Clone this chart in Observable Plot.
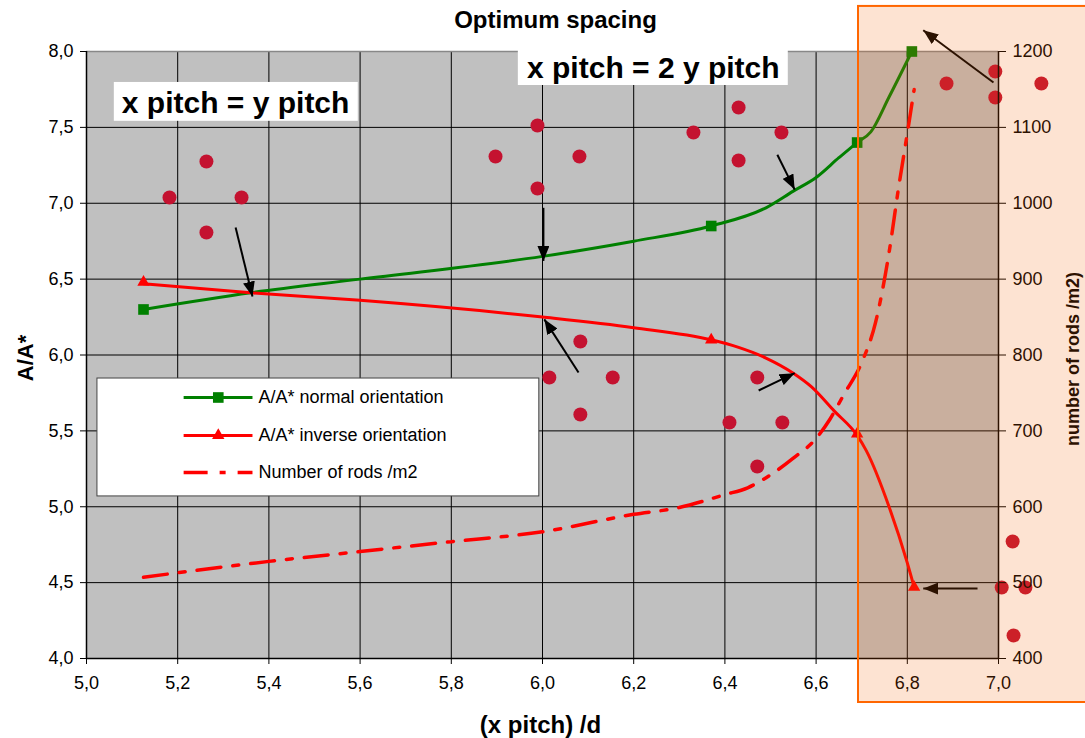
<!DOCTYPE html>
<html>
<head>
<meta charset="utf-8">
<script src="https://cdn.jsdelivr.net/npm/d3@7"></script>
<script src="https://cdn.jsdelivr.net/npm/@observablehq/plot@0.6"></script>
<style>
  html, body { margin: 0; padding: 0; background: #fff; overflow: hidden; }
  #chart { width: 1085px; height: 738px; }
  #chart svg { display: block; }
</style>
</head>
<body>
<div id="chart"></div>
<script>
// ---------------- data ----------------
const xTicks = [5.0, 5.2, 5.4, 5.6, 5.8, 6.0, 6.2, 6.4, 6.6, 6.8, 7.0];
const yTicks = [4.0, 4.5, 5.0, 5.5, 6.0, 6.5, 7.0, 7.5, 8.0];
const rodTicks = [400, 500, 600, 700, 800, 900, 1000, 1100, 1200];

const seriesNames = ["A/A* normal orientation", "A/A* inverse orientation", "Number of rods /m2"];

// A/A* normal orientation (smoothed line + markers)
const normalX = [5.125, 5.36, 5.6, 6.0, 6.2, 6.37, 6.49, 6.55, 6.6, 6.65, 6.69, 6.72, 6.76, 6.81];
const normalY = [6.30, 6.41, 6.50, 6.65, 6.75, 6.85, 6.97, 7.08, 7.17, 7.30, 7.40, 7.47, 7.70, 8.00];
const normalMarkX = [5.125, 6.37, 6.69, 6.81];
const normalMarkY = [6.30, 6.85, 7.40, 8.00];

// A/A* inverse orientation
const inverseX = [5.125, 5.36, 5.6, 6.0, 6.2, 6.37, 6.43, 6.49, 6.55, 6.59, 6.64, 6.69, 6.71, 6.76, 6.80, 6.815];
const inverseY = [6.47, 6.41, 6.36, 6.25, 6.18, 6.10, 6.05, 5.98, 5.88, 5.79, 5.63, 5.47, 5.37, 5.00, 4.63, 4.47];
const inverseMarkX = [5.125, 6.37, 6.69, 6.815];
const inverseMarkY = [6.48, 6.10, 5.48, 4.47];

// Number of rods /m2 (right axis)
const rodsX = [5.125, 5.2, 5.4, 5.6, 5.8, 6.0, 6.2, 6.3, 6.4, 6.45, 6.5, 6.55, 6.6, 6.63, 6.66, 6.70, 6.73, 6.76, 6.78, 6.80, 6.815];
const rodsN = [507, 513, 528, 541, 554, 567, 590, 599, 616, 625, 642, 664, 690, 715, 747, 790, 842, 935, 1017, 1092, 1150];

// rod arrangement sketches (dots)
const dotX = [5.182, 5.263, 5.340, 5.263,
              5.897, 5.989, 6.081, 5.989,
              6.331, 6.430, 6.524, 6.430,
              6.015, 6.083, 6.154, 6.083,
              6.410, 6.471, 6.526, 6.471,
              6.886, 6.993, 6.993, 7.094,
              7.007, 7.059, 7.033, 7.031];
const dotY = [7.038, 7.275, 7.038, 6.807,
              7.308, 7.512, 7.308, 7.097,
              7.466, 7.631, 7.466, 7.282,
              5.852, 6.089, 5.852, 5.608,
              5.555, 5.852, 5.555, 5.265,
              7.789, 7.868, 7.697, 7.789,
              4.468, 4.468, 4.152, 4.771];

// annotation arrows
const arrowX1 = [5.327, 6.002, 6.079, 6.474, 6.515, 6.989, 6.954];
const arrowY1 = [6.840, 6.970, 5.885, 5.766, 7.320, 7.796, 4.461];
const arrowX2 = [5.364, 6.002, 6.004, 6.553, 6.553, 6.835, 6.835];
const arrowY2 = [6.385, 6.620, 6.235, 5.880, 7.090, 8.140, 4.461];

// boxed annotation labels
const labelText = ["x pitch = y pitch", "x pitch = 2 y pitch"];
const labelX = [5.327, 6.243];
const labelY = [7.660, 7.890];
const labelBoxX1 = [5.061, 5.947];
const labelBoxX2 = [5.596, 6.539];
const labelBoxY1 = [7.540, 7.776];
const labelBoxY2 = [7.796, 8.007];

// highlighted region
const zoneX = [6.693, 7.7];
const zoneY = [3.71, 8.297];

// legend placement (data units)
const legendBoxX = [5.024, 5.993];
const legendBoxY = [5.068, 5.845];
const legendRowY = [5.720, 5.470, 5.226];
const legendLineX = [5.213, 5.364];
const legendMarkX = 5.289;
const legendTextX = 5.377;

// ---------------- helpers ----------------
const fmt = v => v.toFixed(1).replace(".", ",");
const rodToY = n => 4 + (n - 400) / 200;

const normal = normalX.map((x, i) => ({x, y: normalY[i]}));
const normalMarks = normalMarkX.map((x, i) => ({x, y: normalMarkY[i]}));
const inverse = inverseX.map((x, i) => ({x, y: inverseY[i]}));
const inverseMarks = inverseMarkX.map((x, i) => ({x, y: inverseMarkY[i]}));
const rods = rodsX.map((x, i) => ({x, y: rodToY(rodsN[i])}));
const dots = dotX.map((x, i) => ({x, y: dotY[i]}));
const arrows = arrowX1.map((x, i) => ({x1: x, y1: arrowY1[i], x2: arrowX2[i], y2: arrowY2[i]}));
const labels = labelText.map((t, i) => ({t, x: labelX[i], y: labelY[i],
  x1: labelBoxX1[i], x2: labelBoxX2[i], y1: labelBoxY1[i], y2: labelBoxY2[i]}));

const GREEN = "#008000", RED = "#FF0000", DOT = "#C41230";
const DASH = "24,12,6,12";

const legendSeg = legendRowY.map(y => ({x1: legendLineX[0], x2: legendLineX[1], y}));

const chart = Plot.plot({
  width: 1085,
  height: 738,
  marginLeft: 86,
  marginRight: 87,
  marginTop: 51,
  marginBottom: 80,
  x: {domain: [5, 7]},
  y: {domain: [4, 8]},
  style: {
    fontFamily: "'Liberation Sans', Arial, Helvetica, sans-serif",
    fontSize: "18px",
    color: "#000",
    background: "#fff",
    overflow: "hidden"
  },
  marks: [
    Plot.frame({fill: "#C0C0C0", stroke: null}),
    Plot.ruleX(xTicks, {stroke: "#000", strokeWidth: 1}),
    Plot.ruleY(yTicks.filter(v => v < 8), {stroke: "#000", strokeWidth: 1}),
    Plot.ruleY([8], {stroke: "#888", strokeWidth: 1.5}),

    // legend
    Plot.rect([0], {x1: legendBoxX[0], x2: legendBoxX[1], y1: legendBoxY[0], y2: legendBoxY[1],
      fill: "#fff", stroke: "#444", strokeWidth: 1}),
    Plot.link([legendSeg[0]], {x1: "x1", x2: "x2", y1: "y", y2: "y", stroke: GREEN, strokeWidth: 3}),
    Plot.link([legendSeg[1]], {x1: "x1", x2: "x2", y1: "y", y2: "y", stroke: RED, strokeWidth: 3}),
    Plot.link([legendSeg[2]], {x1: "x1", x2: "x2", y1: "y", y2: "y", stroke: RED, strokeWidth: 3.5, strokeDasharray: DASH}),
    Plot.dot([{x: legendMarkX, y: legendRowY[0]}], {x: "x", y: "y", symbol: "square", r: 6, fill: GREEN}),
    Plot.dot([{x: legendMarkX, y: legendRowY[1]}], {x: "x", y: "y", symbol: "triangle", r: 4.6, fill: RED}),
    Plot.text(seriesNames, {x: legendTextX, y: (d, i) => legendRowY[i], text: d => d,
      textAnchor: "start", lineAnchor: "middle", fontSize: 18, fill: "#000"}),

    // series
    Plot.line(rods, {x: "x", y: "y", stroke: RED, strokeWidth: 3.5, strokeDasharray: DASH, curve: "monotone-x"}),
    Plot.line(normal, {x: "x", y: "y", stroke: GREEN, strokeWidth: 3, curve: "monotone-x"}),
    Plot.line(inverse, {x: "x", y: "y", stroke: RED, strokeWidth: 3, curve: "monotone-x"}),
    Plot.dot(normalMarks, {x: "x", y: "y", symbol: "square", r: 6, fill: GREEN}),
    Plot.dot(inverseMarks, {x: "x", y: "y", symbol: "triangle", r: 4.6, fill: RED}),

    // rod layouts
    Plot.dot(dots, {x: "x", y: "y", r: 7, fill: DOT, stroke: null}),

    // arrows
    Plot.link(arrows, {x1: "x1", y1: "y1", x2: "x2", y2: "y2", stroke: "#000", strokeWidth: 2, markerEnd: "arrow"}),

    // boxed labels
    Plot.rect(labels, {x1: "x1", x2: "x2", y1: "y1", y2: "y2", fill: "#fff"}),
    Plot.text(labels, {x: "x", y: "y", text: "t", fontSize: 30, fontWeight: "bold", fill: "#000",
      textAnchor: "middle", lineAnchor: "middle"}),

    // axes
    Plot.axisX({ticks: xTicks, tickFormat: fmt, tickSize: 6, tickPadding: 12, label: null, fontSize: 18}),
    Plot.axisY({anchor: "left", ticks: yTicks, tickFormat: fmt, tickSize: 6, tickPadding: 7, label: null, fontSize: 18}),
    Plot.axisY({anchor: "right", ticks: rodTicks.map(rodToY), tickFormat: (d, i) => String(rodTicks[i]),
      tickSize: 7, tickPadding: 7, label: null, fontSize: 18}),
    Plot.ruleX([5], {stroke: "#000", strokeWidth: 1.5}),
    Plot.ruleY([4], {stroke: "#000", strokeWidth: 1.5}),
    Plot.ruleX([7], {stroke: "#000", strokeWidth: 1.5}),

    // titles
    Plot.text(["Optimum spacing"], {frameAnchor: "top", text: d => d, dy: -31, dx: 13,
      fontSize: 24, fontWeight: "bold", textAnchor: "middle", lineAnchor: "middle"}),
    Plot.text(["(x pitch) /d"], {frameAnchor: "bottom", text: d => d, dy: 67, dx: -2,
      fontSize: 24, fontWeight: "bold", textAnchor: "middle", lineAnchor: "middle"}),
    Plot.text(["A/A*"], {frameAnchor: "left", text: d => d, dx: -61, dy: 3, rotate: -90,
      fontSize: 22, fontWeight: "bold", textAnchor: "middle", lineAnchor: "middle"}),
    Plot.text(["number of rods /m2)"], {frameAnchor: "right", text: d => d, dx: 75, dy: 4, rotate: -90,
      fontSize: 18, fontWeight: "bold", textAnchor: "middle", lineAnchor: "middle"}),

    // highlighted zone overlay (on top)
    Plot.rect([0], {x1: zoneX[0], x2: zoneX[1], y1: zoneY[0], y2: zoneY[1],
      fill: "#F46305", fillOpacity: 0.18, stroke: null}),
    Plot.rect([0], {x1: zoneX[0], x2: zoneX[1], y1: zoneY[0], y2: zoneY[1],
      fill: "none", stroke: "#FF6600", strokeWidth: 2})
  ]
});

// filled triangular arrowheads: own marker definition
const NS = "http://www.w3.org/2000/svg";
const defs = document.createElementNS(NS, "defs");
const mk = document.createElementNS(NS, "marker");
mk.setAttribute("id", "filled-arrowhead");
mk.setAttribute("viewBox", "0 0 15 12");
mk.setAttribute("refX", "15");
mk.setAttribute("refY", "6");
mk.setAttribute("markerUnits", "userSpaceOnUse");
mk.setAttribute("markerWidth", "15");
mk.setAttribute("markerHeight", "12");
mk.setAttribute("orient", "auto");
const mp = document.createElementNS(NS, "path");
mp.setAttribute("d", "M0,0L15,6L0,12Z");
mp.setAttribute("fill", "#000");
mk.appendChild(mp);
defs.appendChild(mk);
chart.insertBefore(defs, chart.firstChild);
chart.querySelectorAll("[marker-end]").forEach(el => el.setAttribute("marker-end", "url(#filled-arrowhead)"));

document.getElementById("chart").appendChild(chart);
</script>
</body>
</html>
